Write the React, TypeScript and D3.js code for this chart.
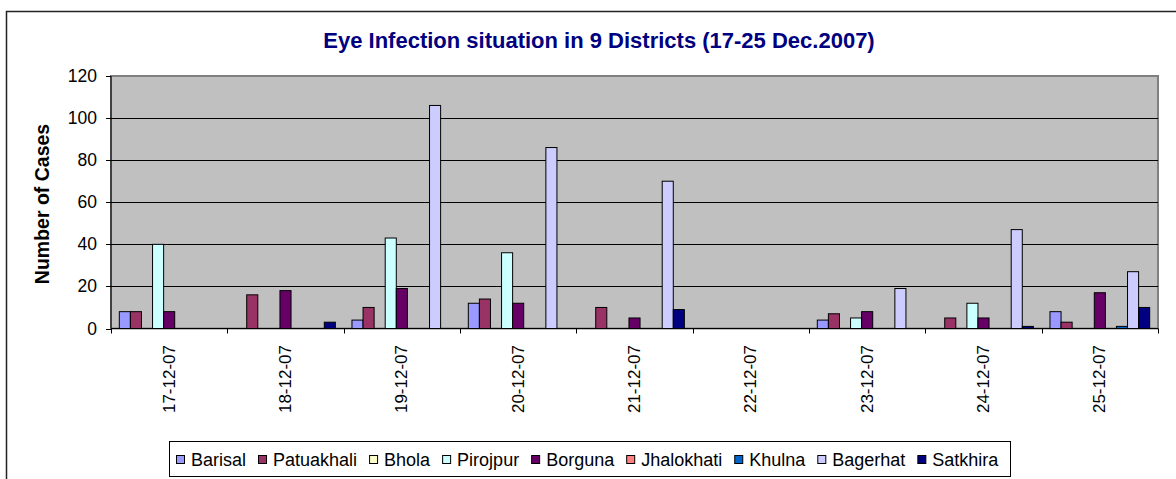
import React from "react";
import * as d3 from "d3";

const categories = ["17-12-07","18-12-07","19-12-07","20-12-07","21-12-07","22-12-07","23-12-07","24-12-07","25-12-07"];
const seriesNames = ["Barisal","Patuakhali","Bhola","Pirojpur","Borguna","Jhalokhati","Khulna","Bagerhat","Satkhira"];
const seriesColors = ["#9999FF","#993366","#FFFFCC","#CCFFFF","#660066","#FF8080","#0066CC","#CCCCFF","#000080"];
const barisal = [8,0,4,12,0,0,4,0,8];
const patuakhali = [8,16,10,14,10,0,7,5,3];
const bhola = [0,0,0,0,0,0,0,0,0];
const pirojpur = [40,0,43,36,0,0,5,12,0];
const borguna = [8,18,19,12,5,0,8,5,17];
const jhalokhati = [0,0,0,0,0,0,0,0,0];
const khulna = [0,0,0,0,0,0,0,0,1];
const bagerhat = [0,0,106,86,70,0,19,47,27];
const satkhira = [0,3,0,0,9,0,0,1,10];
const seriesValues = [barisal,patuakhali,bhola,pirojpur,borguna,jhalokhati,khulna,bagerhat,satkhira];
const yTicks = [0,20,40,60,80,100,120];

const FONT = "Arial, 'Liberation Sans', sans-serif";

function measure(text: string, font: string) {
  const c = document.createElement("canvas").getContext("2d");
  if (!c) return text.length * 9;
  c.font = font;
  return c.measureText(text).width;
}

export default function App() {
  const W = 1176, H = 479;
  const left = 111, right = 1158, top = 76, bottom = 328.5;
  const x = d3.scaleBand<string>().domain(categories).range([left, right]).padding(0);
  const xs = d3.scaleBand<string>().domain(seriesNames).range([0, x.bandwidth()]).paddingInner(0).paddingOuter(0.75);
  const y = d3.scaleLinear().domain([0, 120]).range([bottom, top]);

  // legend layout
  const legFontSize = 18;
  const legFont = `${legFontSize}px ${FONT}`;
  const sw = 8, swGap = 7, itemGap = 12;
  const widths = seriesNames.map(n => measure(n, legFont));
  let cx = 176;
  const legendItems = seriesNames.map((n, i) => {
    const it = { name: n, x: cx, color: seriesColors[i] };
    cx += sw + swGap + widths[i] + itemGap;
    return it;
  });

  const boundaries = d3.range(categories.length + 1).map(i => left + i * x.step());

  return (
    <svg width={W} height={H} style={{ position: "absolute", left: 0, top: 0, fontFamily: FONT }}>
      <rect x={0} y={0} width={W} height={H} fill="#fff" />
      <rect x={6.5} y={11.5} width={1300} height={600} fill="#fff" stroke="#222" strokeWidth={1.5} />
      <text x={599} y={48} textAnchor="middle" fontSize={22} fontWeight="bold" fill="#000080">
        Eye Infection situation in 9 Districts (17-25 Dec.2007)
      </text>
      {/* plot area */}
      <rect x={left} y={top} width={right - left} height={bottom - top} fill="#C0C0C0" stroke="#808080" strokeWidth={2} />
      {yTicks.filter(t => t > 0 && t < 120).map(t => (
        <line key={t} x1={left} x2={right} y1={Math.round(y(t)) + 0.5} y2={Math.round(y(t)) + 0.5} stroke="#000" strokeWidth={1} />
      ))}
      {/* bars */}
      {seriesValues.map((vals, si) => (
        <g key={si}>
          {vals.map((v, ci) => v > 0 ? (
            <rect key={ci}
              x={(x(categories[ci]) as number) + (xs(seriesNames[si]) as number)}
              y={y(v)} width={xs.bandwidth()} height={bottom - y(v)}
              fill={seriesColors[si]} stroke="#000" strokeWidth={1} />
          ) : null)}
        </g>
      ))}
      {/* axes */}
      <line x1={left} x2={left} y1={top} y2={bottom} stroke="#000" />
      <line x1={left} x2={right} y1={bottom} y2={bottom} stroke="#000" />
      {yTicks.map(t => (
        <g key={t}>
          <line x1={left - 5} x2={left} y1={Math.round(y(t)) + 0.5} y2={Math.round(y(t)) + 0.5} stroke="#000" />
          <text x={97} y={y(t)} textAnchor="end" dominantBaseline="central" fontSize={17.5} fill="#000">{t}</text>
        </g>
      ))}
      {boundaries.map((b, i) => (
        <line key={i} x1={Math.round(b) + 0.5} x2={Math.round(b) + 0.5} y1={bottom} y2={bottom + 5} stroke="#000" />
      ))}
      {categories.map(c => {
        const cxp = (x(c) as number) + x.bandwidth() / 2;
        return (
          <text key={c} transform={`translate(${cxp},345) rotate(-90)`} textAnchor="end" dominantBaseline="central" fontSize={17} fill="#000">{c}</text>
        );
      })}
      <text transform="translate(42,204) rotate(-90)" textAnchor="middle" dominantBaseline="central" fontSize={19.5} fontWeight="bold" fill="#000">Number of Cases</text>
      {/* legend */}
      <rect x={169.5} y={441.5} width={841} height={35} fill="#fff" stroke="#000" strokeWidth={1} />
      {legendItems.map(it => (
        <g key={it.name}>
          <rect x={it.x + 0.5} y={455.5} width={sw} height={sw} fill={it.color} stroke="#000" strokeWidth={1} />
          <text x={it.x + sw + swGap} y={460} dominantBaseline="central" fontSize={legFontSize} fill="#000">{it.name}</text>
        </g>
      ))}
    </svg>
  );
}
